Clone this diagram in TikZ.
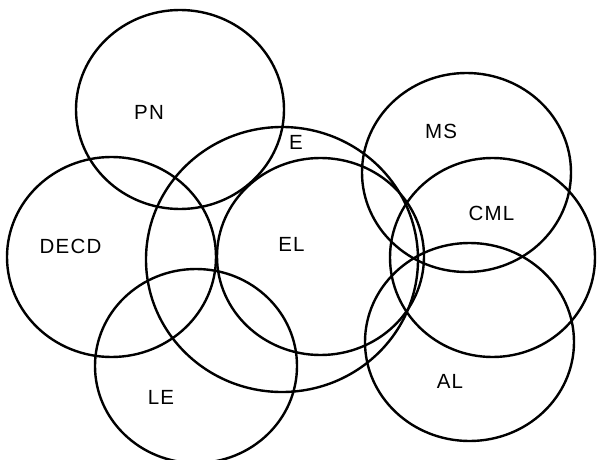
\documentclass[tikz,border=0pt]{standalone}
\usepackage{fontspec}
\newfontfamily\labfont[LetterSpace=6]{Liberation Sans}
\begin{document}
\begin{tikzpicture}[x=1pt,y=-1pt,
  ring/.style={draw=black,line width=2.4pt},
  lab/.style={font=\labfont\fontsize{20.5}{20.5}\selectfont,inner sep=0pt,anchor=center}]
\useasboundingbox (0,0) rectangle (597,460);
% sets
\draw[ring] (180,109.5) ellipse [x radius=104pt,y radius=99.5pt];
\draw[ring] (282,259.5) ellipse [x radius=136pt,y radius=132.5pt];
\draw[ring] (320.5,256.5) ellipse [x radius=103.5pt,y radius=98.5pt];
\draw[ring] (111.5,257) ellipse [x radius=104.5pt,y radius=100pt];
\draw[ring] (196,366) ellipse [x radius=101pt,y radius=97pt];
\draw[ring] (466.5,172.5) ellipse [x radius=104.5pt,y radius=99.5pt];
\draw[ring] (492.5,257.5) ellipse [x radius=102.5pt,y radius=99.5pt];
\draw[ring] (469.5,342) ellipse [x radius=104.5pt,y radius=99pt];
% labels
\node[lab] (pn) at (149,112) {PN};
\node[lab] (e) at (296,142.5) {E};
\node[lab] (el) at (291.5,244) {EL};
\node[lab] (decd) at (70.5,246) {DECD};
\node[lab] (le) at (161,397) {LE};
\node[lab] (ms) at (441,131) {MS};
\node[lab] (cml) at (491.5,213.5) {CML};
\node[lab] (al) at (450,381) {AL};
\end{tikzpicture}
\end{document}
